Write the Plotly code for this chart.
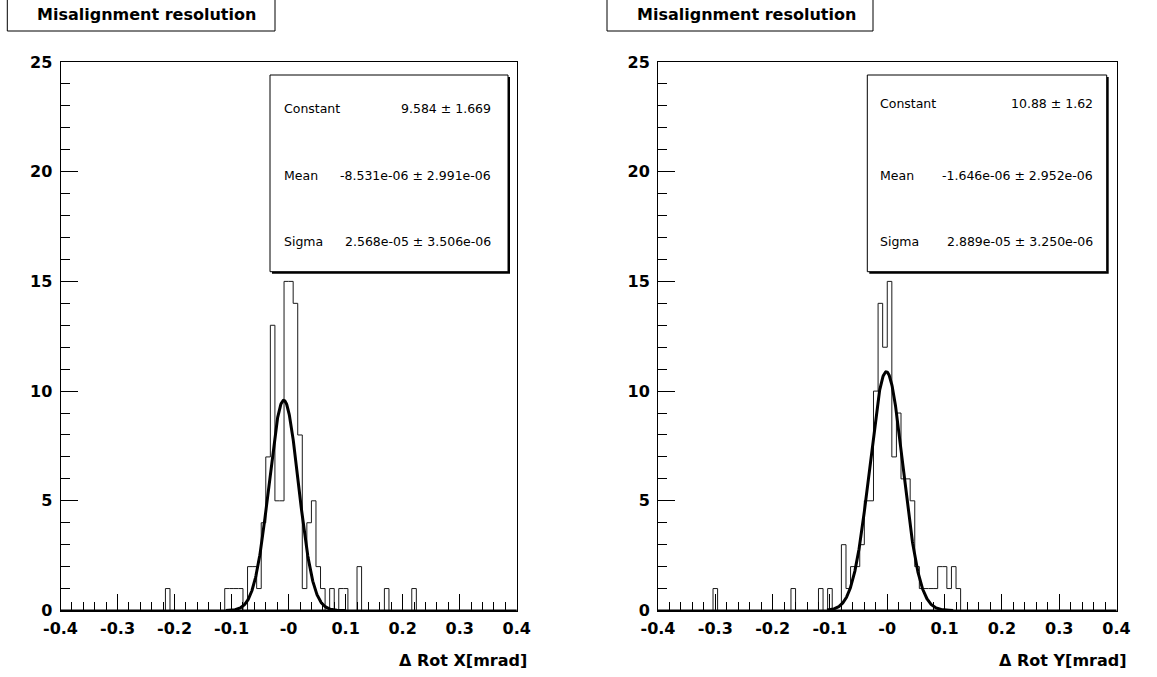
import numpy as np
import plotly.graph_objects as go

# ---------------- data ----------------
NBINS = 100
XMIN, XMAX = -0.4, 0.4

# bin contents (100 bins, -0.4 .. 0.4, width 0.008)
counts_x = [
    0, 0, 0, 0, 0, 0, 0, 0, 0, 0, 0, 0, 0, 0, 0, 0, 0, 0, 0, 0,
    0, 0, 0, 1, 0, 0, 0, 0, 0, 0, 0, 0, 0, 0, 0, 0, 1, 1, 1, 1,
    0, 2, 2, 1, 4, 7, 13, 5, 5, 15, 15, 14, 8, 1, 4, 5, 2, 1, 0, 1,
    0, 1, 1, 0, 0, 2, 0, 0, 0, 0, 0, 1, 0, 0, 0, 0, 0, 1, 0, 0,
    0, 0, 0, 0, 0, 0, 0, 0, 0, 0, 0, 0, 0, 0, 0, 0, 0, 0, 0, 0,
]
counts_y = [
    0, 0, 0, 0, 0, 0, 0, 0, 0, 0, 0, 0, 1, 0, 0, 0, 0, 0, 0, 0,
    0, 0, 0, 0, 0, 0, 0, 0, 0, 1, 0, 0, 0, 0, 0, 1, 0, 1, 0, 0,
    3, 1, 2, 2, 3, 5, 5, 10, 14, 12, 15, 7, 9, 6, 6, 5, 2, 1, 1, 1,
    1, 2, 2, 1, 2, 1, 0, 0, 0, 0, 0, 0, 0, 0, 0, 0, 0, 0, 0, 0,
    0, 0, 0, 0, 0, 0, 0, 0, 0, 0, 0, 0, 0, 0, 0, 0, 0, 0, 0, 0,
]

# Gaussian fit parameters (Constant, Mean, Sigma); mean/sigma shown in rad, axis in mrad
fit_x = {"const": 9.584, "mean": -8.531e-06, "sigma": 2.568e-05}
fit_y = {"const": 10.88, "mean": -1.646e-06, "sigma": 2.889e-05}
fit_range_x = [-0.11, 0.10]
fit_range_y = [-0.105, 0.115]

stats_x = [("Constant", "9.584 \u00b1 1.669"),
           ("Mean", "-8.531e-06 \u00b1 2.991e-06"),
           ("Sigma", "2.568e-05 \u00b1 3.506e-06")]
stats_y = [("Constant", "10.88 \u00b1 1.62"),
           ("Mean", "-1.646e-06 \u00b1 2.952e-06"),
           ("Sigma", "2.889e-05 \u00b1 3.250e-06")]

xtick_vals = [-0.4, -0.3, -0.2, -0.1, 0.0, 0.1, 0.2, 0.3, 0.4]
xtick_text = ["-0.4", "-0.3", "-0.2", "-0.1", "-0", "0.1", "0.2", "0.3", "0.4"]
ytick_vals = [0, 5, 10, 15, 20, 25]

title_text = "Misalignment resolution"
xtitle_x = "\u0394 Rot X[mrad]"
xtitle_y = "\u0394 Rot Y[mrad]"

# ---------------- layout geometry (pixels) ----------------
W, H = 1157, 677
FR_TOP, FR_BOT = 62.0, 610.5
PANELS = [
    dict(x0=60.5, x1=516.7, counts=counts_x, fit=fit_x, frange=fit_range_x,
         stats=stats_x, xtitle=xtitle_x,
         box=(7.3, 275.0), sbox=(270.0, 508.0), srow=(109.0, 175.0, 241.0),
         sl=281.7, sr=493.3),
    dict(x0=658.0, x1=1116.5, counts=counts_y, fit=fit_y, frange=fit_range_y,
         stats=stats_y, xtitle=xtitle_y,
         box=(607.0, 873.0), sbox=(867.3, 1106.7), srow=(104.0, 175.0, 241.5),
         sl=878.3, sr=1095.0),
]

def px(x):
    return x / W

def py(y):
    return 1 - y / H

FONT = "DejaVu Sans"
fig = go.Figure()
shapes = []
annotations = []
edges = np.linspace(XMIN, XMAX, NBINS + 1)

for k, p in enumerate(PANELS):
    sfx = "" if k == 0 else str(k + 1)
    xa, ya = "x" + sfx, "y" + sfx
    c = list(p["counts"])
    # histogram outline
    fig.add_trace(go.Scatter(
        x=list(edges), y=c + [c[-1]], mode="lines", line_shape="hv",
        line=dict(color="#1a1a1a", width=1), xaxis=xa, yaxis=ya,
        showlegend=False, hoverinfo="skip"))
    # gaussian fit
    f = p["fit"]
    xs = np.linspace(p["frange"][0], p["frange"][1], 400)
    m, s = f["mean"] * 1000, f["sigma"] * 1000
    ys = f["const"] * np.exp(-0.5 * ((xs - m) / s) ** 2)
    fig.add_trace(go.Scatter(
        x=xs, y=ys, mode="lines", line=dict(color="black", width=3),
        xaxis=xa, yaxis=ya, showlegend=False, hoverinfo="skip"))

    axis_common = dict(showgrid=False, zeroline=False, showline=True,
                       linecolor="black", linewidth=1, mirror=True,
                       ticks="inside", tickcolor="black", tickwidth=1,
                       automargin=False,
                       tickfont=dict(family=FONT, size=16, color="black", weight="bold"))
    fig.layout["xaxis" + sfx] = dict(
        axis_common, domain=[px(p["x0"]), px(p["x1"])], range=[XMIN, XMAX],
        anchor=ya, tickmode="array", tickvals=xtick_vals, ticktext=xtick_text,
        ticklen=17, ticklabelstandoff=3,
        minor=dict(ticks="inside", dtick=0.02, tick0=-0.4, ticklen=9,
                   tickcolor="black", tickwidth=1))
    fig.layout["yaxis" + sfx] = dict(
        axis_common, domain=[py(FR_BOT), py(FR_TOP)], range=[0, 25],
        anchor=xa, tickmode="array", tickvals=ytick_vals, ticklen=17,
        ticklabelstandoff=4,
        minor=dict(ticks="inside", dtick=1, tick0=0, ticklen=9,
                   tickcolor="black", tickwidth=1))

    # thicker bottom axis line (histogram baseline)
    shapes.append(dict(type="line", xref="paper", yref="paper",
                       x0=px(p["x0"]), x1=px(p["x1"]), y0=py(FR_BOT), y1=py(FR_BOT),
                       line=dict(color="black", width=2)))

    # title box
    b0, b1 = p["box"]
    shapes.append(dict(type="rect", xref="paper", yref="paper",
                       x0=px(b0), x1=px(b1), y0=py(31), y1=py(-2),
                       line=dict(color="black", width=1), fillcolor="white"))
    annotations.append(dict(text=title_text, xref="paper", yref="paper",
                            x=px(b0 + 28), y=py(15), xanchor="left", yanchor="middle",
                            showarrow=False,
                            font=dict(family=FONT, size=16, color="black", weight="bold")))
    # axis title
    annotations.append(dict(text=p["xtitle"], xref="paper", yref="paper",
                            x=px(p["x1"] + 12), y=py(660), xanchor="right", yanchor="middle",
                            showarrow=False,
                            font=dict(family=FONT, size=16, color="black", weight="bold")))
    # stats box with shadow
    s0, s1 = p["sbox"]
    shapes.append(dict(type="rect", xref="paper", yref="paper",
                       x0=px(s0 + 2), x1=px(s1 + 2), y0=py(271.7 + 2), y1=py(75 + 2),
                       line=dict(color="black", width=0), fillcolor="black"))
    shapes.append(dict(type="rect", xref="paper", yref="paper",
                       x0=px(s0), x1=px(s1), y0=py(271.7), y1=py(75),
                       line=dict(color="black", width=1), fillcolor="white"))
    for (lab, val), yy in zip(p["stats"], p["srow"]):
        annotations.append(dict(text=lab, xref="paper", yref="paper",
                                x=px(p["sl"]), y=py(yy), xanchor="left", yanchor="middle",
                                showarrow=False,
                                font=dict(family=FONT, size=12.5, color="black")))
        annotations.append(dict(text=val, xref="paper", yref="paper",
                                x=px(p["sr"]), y=py(yy), xanchor="right", yanchor="middle",
                                showarrow=False,
                                font=dict(family=FONT, size=12.5, color="black")))

fig.update_layout(width=W, height=H, margin=dict(l=0, r=0, t=0, b=0, autoexpand=False),
                  paper_bgcolor="white", plot_bgcolor="white",
                  shapes=shapes, annotations=annotations, showlegend=False)

fig.write_html("out.html", config={"displayModeBar": False},
               post_script="document.body.style.margin='0';")
